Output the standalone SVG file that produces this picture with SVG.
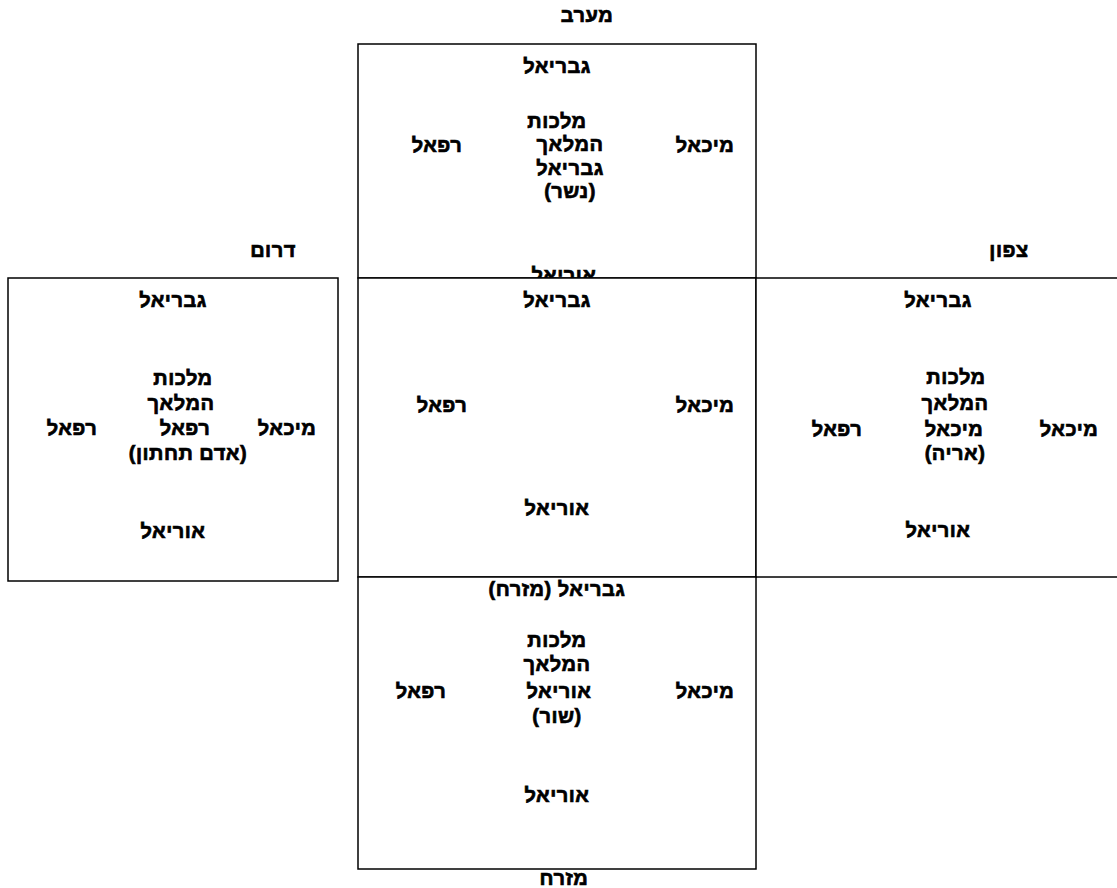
<svg xmlns="http://www.w3.org/2000/svg" width="1117" height="888" viewBox="0 0 1117 888">
<style>
text{font-family:"Liberation Sans","DejaVu Sans",sans-serif;font-weight:bold;font-size:20px;letter-spacing:0.5px;fill:#000;stroke:#000;stroke-width:0.7;text-anchor:middle;direction:rtl;unicode-bidi:embed}
.box{fill:#fff;stroke:#000;stroke-width:1.5}
</style>
<rect width="1117" height="888" fill="#fff"/>
<g id="labels">
<text x="587" y="22">מערב</text>
<text x="273" y="257">דרום</text>
<text x="1009" y="257">צפון</text>
<text x="564" y="885">מזרח</text>
</g>
<g id="west">
<rect class="box" x="358" y="44" width="398" height="234"/>
<text x="557" y="73">גבריאל</text>
<text x="557" y="128">מלכות</text>
<text x="570" y="151">המלאך</text>
<text x="570" y="175">גבריאל</text>
<text x="570" y="198">(נשר)</text>
<text x="437" y="152">רפאל</text>
<text x="705" y="152">מיכאל</text>
<text x="564" y="282">אוריאל</text>
</g>
<g id="center">
<rect class="box" x="358" y="278" width="398" height="299"/>
<text x="557" y="307">גבריאל</text>
<text x="442" y="412">רפאל</text>
<text x="705" y="412">מיכאל</text>
<text x="557" y="515">אוריאל</text>
</g>
<g id="north">
<rect class="box" x="756" y="278" width="370" height="299"/>
<text x="938" y="307">גבריאל</text>
<text x="956" y="384">מלכות</text>
<text x="955" y="410">המלאך</text>
<text x="954" y="436">מיכאל</text>
<text x="955" y="460">(אריה)</text>
<text x="837" y="436">רפאל</text>
<text x="1069" y="436">מיכאל</text>
<text x="938" y="537">אוריאל</text>
</g>
<g id="south">
<rect class="box" x="8" y="278" width="330" height="303"/>
<text x="173" y="307">גבריאל</text>
<text x="183" y="385">מלכות</text>
<text x="181" y="410">המלאך</text>
<text x="185" y="435">רפאל</text>
<text x="188" y="460">(אדם תחתון)</text>
<text x="72" y="435">רפאל</text>
<text x="287" y="435">מיכאל</text>
<text x="173" y="538">אוריאל</text>
</g>
<g id="east">
<rect class="box" x="358" y="577" width="398" height="292"/>
<text x="557" y="596">גבריאל (מזרח)</text>
<text x="557" y="647">מלכות</text>
<text x="557" y="671">המלאך</text>
<text x="559" y="698">אוריאל</text>
<text x="557" y="723">(שור)</text>
<text x="421" y="698">רפאל</text>
<text x="705" y="698">מיכאל</text>
<text x="557" y="802">אוריאל</text>
</g>
<g id="connectors"/>
</svg>
